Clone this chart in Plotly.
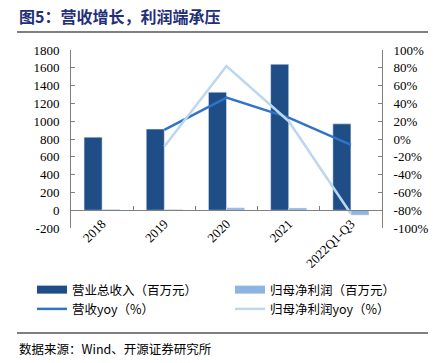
import plotly.graph_objects as go

categories = ["2018", "2019", "2020", "2021", "2022Q1-Q3"]
revenue = [821, 911, 1326, 1640, 970]
net_profit = [9, 8, 27, 25, -55]
revenue_yoy = [None, 10.3, 46.5, 24.0, -6.5]
profit_yoy = [None, -8.4, 82.0, 20.0, -84.0]
left_ticks = list(range(-200, 1801, 200))
right_ticks = list(range(-100, 101, 20))

C_REV = "#1F4E87"
C_NP = "#8DB4E2"
C_REVY = "#2F74C8"
C_NPY = "#BDD7EE"
SERIF = "Liberation Serif"
CJK = "Noto Sans CJK SC"

W, H = 438, 363
L, R, T, B = 71, 56, 50, 135
pw = W - L - R
ph = H - T - B

def px(x):
    return (x - L) / pw

def py(y):
    return (H - B - y) / ph

fig = go.Figure()
fig.add_trace(go.Bar(x=categories, y=revenue, marker_color=C_REV, showlegend=False, yaxis="y"))
fig.add_trace(go.Bar(x=categories, y=net_profit, marker_color=C_NP, showlegend=False, yaxis="y"))
fig.add_trace(go.Scatter(x=categories, y=revenue_yoy, mode="lines", line=dict(color=C_REVY, width=2.5),
                         showlegend=False, yaxis="y2"))
fig.add_trace(go.Scatter(x=categories, y=profit_yoy, mode="lines", line=dict(color=C_NPY, width=2.5),
                         showlegend=False, yaxis="y2"))

# legend entries (two columns = two legends)
legend_items = [
    ("营业总收入（百万元）", C_REV, 8, "legend"),
    ("营收yoy（%）", C_REVY, 2.5, "legend"),
    ("归母净利润（百万元）", C_NP, 8, "legend2"),
    ("归母净利润yoy（%）", C_NPY, 2.5, "legend2"),
]
for name, col, w, lg in legend_items:
    fig.add_trace(go.Scatter(x=[None], y=[None], mode="lines", name=name, legend=lg,
                             line=dict(color=col, width=w), yaxis="y"))

legend_common = dict(orientation="v", xanchor="left", yanchor="top", itemwidth=30,
                     font=dict(family=CJK, size=12.5), tracegroupgap=0,
                     bgcolor="rgba(0,0,0,0)", traceorder="normal")

axis_col = "#808080"
fig.update_layout(
    width=W, height=H,
    margin=dict(l=L, r=R, t=T, b=B, autoexpand=False),
    paper_bgcolor="white", plot_bgcolor="white",
    barmode="group", bargap=0.42, bargroupgap=0,
    font=dict(family=SERIF, size=13, color="black"),
    xaxis=dict(type="category", anchor="free", position=0.1, showline=True, linecolor=axis_col,
               linewidth=1, ticks="inside", ticklen=4, tickcolor=axis_col, tickson="boundaries",
               tickangle=-45, tickfont=dict(family=SERIF, size=13), showgrid=False, zeroline=False),
    yaxis=dict(range=[-200, 1800], tickvals=left_ticks, ticktext=[str(v) for v in left_ticks],
               showline=True, linecolor=axis_col,
               ticks="inside", ticklen=4, tickcolor=axis_col, showgrid=False, zeroline=False,
               tickfont=dict(family=SERIF, size=13), ticklabelstandoff=8),
    yaxis2=dict(range=[-100, 100], tickvals=right_ticks, ticktext=[f"{v}%" for v in right_ticks],
                overlaying="y", side="right", showline=True, linecolor=axis_col,
                ticks="inside", ticklen=4, tickcolor=axis_col, showgrid=False, zeroline=False,
                tickfont=dict(family=SERIF, size=13), ticklabelstandoff=8),
    legend=dict(x=px(32), y=py(275), **legend_common),
    legend2=dict(x=px(230), y=py(275), **legend_common),
    annotations=[
        dict(text="<b>图5：营收增长，利润端承压</b>", xref="paper", yref="paper", x=px(17), y=py(16),
             xanchor="left", yanchor="middle", showarrow=False,
             font=dict(family=CJK, size=16, color="#1F2F7A")),
        dict(text="数据来源：Wind、开源证券研究所", xref="paper", yref="paper", x=px(17), y=py(348),
             xanchor="left", yanchor="middle", showarrow=False,
             font=dict(family=CJK, size=12.5, color="black")),
    ],
    shapes=[
        dict(type="line", xref="paper", yref="paper", x0=px(17), x1=px(428), y0=py(32), y1=py(32),
             line=dict(color="#7F7F7F", width=2), layer="above"),
        dict(type="line", xref="paper", yref="paper", x0=px(17), x1=px(428), y0=py(333), y1=py(333),
             line=dict(color="#7F7F7F", width=2), layer="above"),
    ],
)

fig.write_html("out.html", config={"displayModeBar": False},
               post_script="document.body.style.margin='0px';")
